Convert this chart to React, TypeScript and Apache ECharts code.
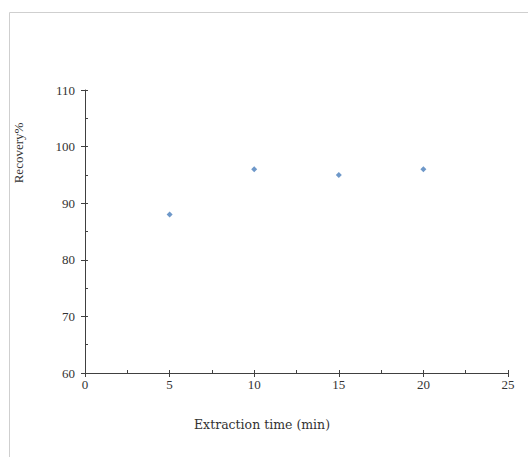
import React, { useEffect, useRef } from "react";
import * as echarts from "echarts";

const times = [5, 10, 15, 20];
const recovery = [88, 96, 95, 96];
const xLabel = "Extraction time (min)";
const yLabel = "Recovery%";

export default function App() {
  const ref = useRef<HTMLDivElement>(null);
  useEffect(() => {
    const chart = echarts.init(ref.current!, null, { renderer: "svg" });
    const font = "Liberation Serif";
    const gridLeft = 85, gridRight = 20, gridTop = 90, gridBottom = 84;
    const axisLineStyle = { color: "#404040", width: 1 };
    chart.setOption({
      animation: false,
      backgroundColor: "#ffffff",
      grid: { left: gridLeft, right: gridRight, top: gridTop, bottom: gridBottom },
      graphic: [
        { type: "line", shape: { x1: 9.5, y1: 12.5, x2: 528, y2: 12.5 }, style: { stroke: "#cfcfcf", lineWidth: 1 } },
        { type: "line", shape: { x1: 9.5, y1: 12.5, x2: 9.5, y2: 457 }, style: { stroke: "#cfcfcf", lineWidth: 1 } },
        {
          type: "text",
          x: 18,
          y: 153,
          rotation: Math.PI / 2,
          style: { text: yLabel, font: `13px "${font}"`, fill: "#333", align: "center", verticalAlign: "middle" },
        },
        {
          type: "text",
          x: 262,
          y: 424,
          style: { text: xLabel, font: `12.5px "DejaVu Serif"`, fill: "#333", align: "center", verticalAlign: "middle" },
        },
      ],
      xAxis: [
        {
          type: "value",
          min: 0,
          max: 25,
          interval: 5,
          axisLine: { show: true, onZero: false, lineStyle: axisLineStyle },
          axisTick: { show: true, length: 4, lineStyle: axisLineStyle },
          axisLabel: { fontFamily: font, fontSize: 13, color: "#333", margin: 5 },
          splitLine: { show: false },
        },
        {
          type: "value",
          position: "bottom",
          min: 0,
          max: 25,
          interval: 2.5,
          axisLine: { show: false },
          axisTick: { show: true, inside: true, length: 3, lineStyle: axisLineStyle },
          axisLabel: { show: false },
          splitLine: { show: false },
        },
      ],
      yAxis: [
        {
          type: "value",
          min: 60,
          max: 110,
          interval: 10,
          axisLine: { show: true, onZero: false, lineStyle: axisLineStyle },
          axisTick: { show: true, length: 4, lineStyle: axisLineStyle },
          axisLabel: { fontFamily: font, fontSize: 13, color: "#333", margin: 10 },
          splitLine: { show: false },
        },
        {
          type: "value",
          position: "left",
          min: 60,
          max: 110,
          interval: 5,
          axisLine: { show: false },
          axisTick: { show: true, inside: true, length: 3, lineStyle: axisLineStyle },
          axisLabel: { show: false },
          splitLine: { show: false },
        },
      ],
      series: [
        {
          type: "scatter",
          xAxisIndex: 0,
          yAxisIndex: 0,
          symbol: "diamond",
          symbolSize: 6,
          itemStyle: { color: "#4a7ebb" },
          data: times.map((t, i) => [t, recovery[i]]),
        },
      ],
    });
    return () => chart.dispose();
  }, []);
  return <div ref={ref} style={{ position: "absolute", left: 0, top: 0, width: 528, height: 457 }} />;
}
